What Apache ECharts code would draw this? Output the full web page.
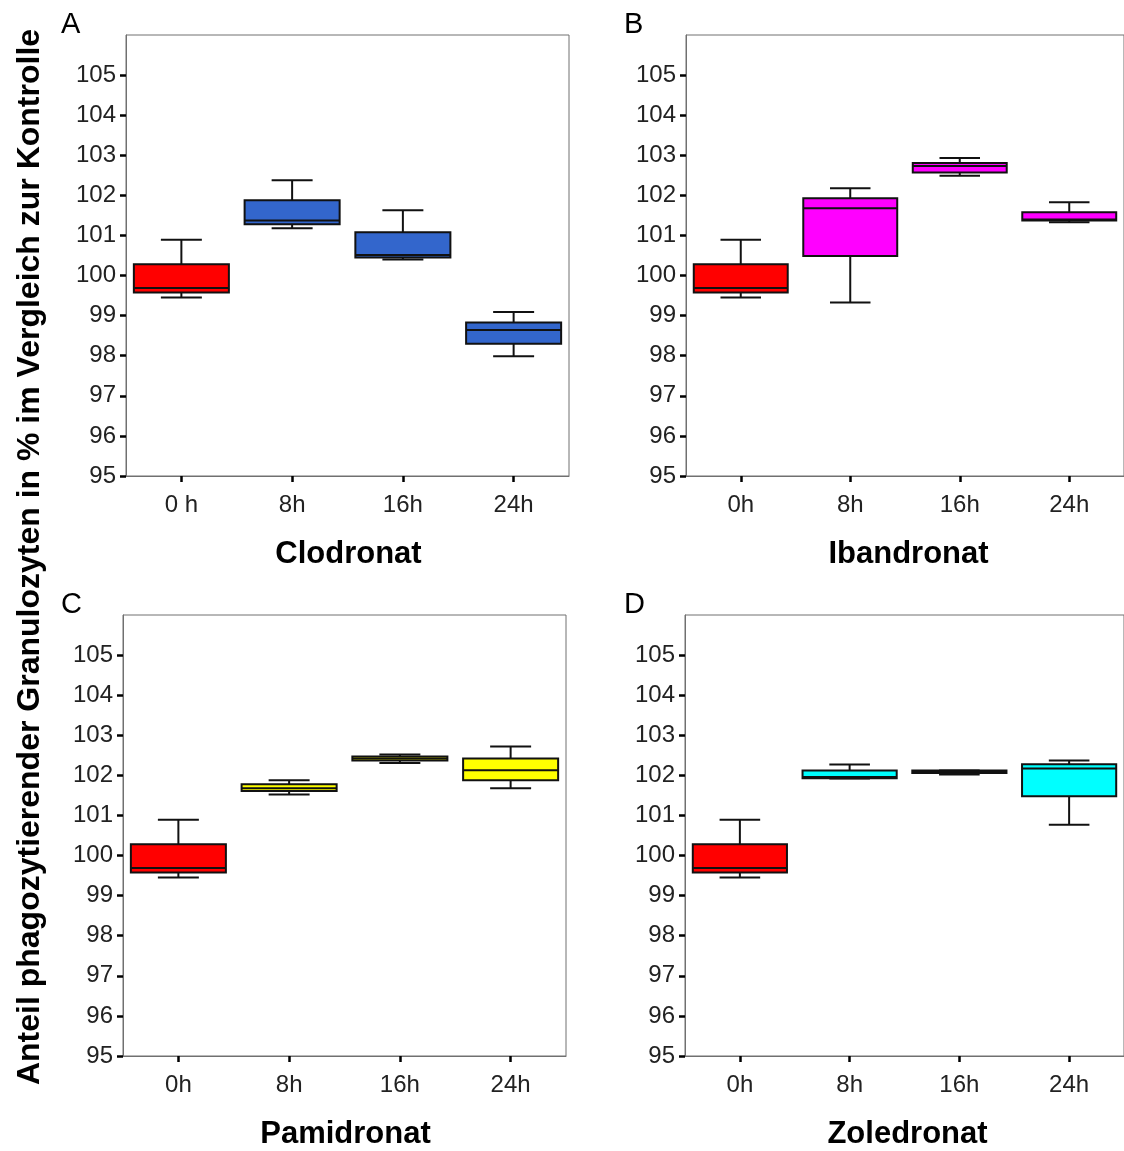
<!DOCTYPE html>
<html>
<head>
<meta charset="utf-8">
<script src="https://cdn.jsdelivr.net/npm/echarts@6/dist/echarts.min.js"></script>
<style>
html,body{margin:0;padding:0;background:#fff;}
#chart{width:1124px;height:1151px;}
</style>
</head>
<body>
<div id="chart"></div>
<script>
// ---- data ----
const categoriesA = ['0 h', '8h', '16h', '24h'];
const categoriesOther = ['0h', '8h', '16h', '24h'];
const yTicks = [95, 96, 97, 98, 99, 100, 101, 102, 103, 104, 105];
const panelNames = ['Clodronat', 'Ibandronat', 'Pamidronat', 'Zoledronat'];
const panelLetters = ['A', 'B', 'C', 'D'];
// each box: [lower whisker, Q1, median, Q3, upper whisker]
const control0h = [99.45, 99.58, 99.69, 100.28, 100.89];
const clodronat = [control0h,
  [101.18, 101.28, 101.37, 101.88, 102.38],
  [100.40, 100.45, 100.51, 101.08, 101.63],
  [97.99, 98.30, 98.64, 98.83, 99.09]];
const ibandronat = [control0h,
  [99.33, 100.49, 101.68, 101.93, 102.18],
  [102.49, 102.57, 102.73, 102.81, 102.93],
  [101.33, 101.37, 101.40, 101.58, 101.83]];
const pamidronat = [control0h,
  [101.52, 101.61, 101.68, 101.78, 101.88],
  [102.31, 102.37, 102.42, 102.47, 102.52],
  [101.68, 101.88, 102.13, 102.42, 102.72]];
const zoledronat = [control0h,
  [101.92, 101.93, 101.96, 102.12, 102.27],
  [102.02, 102.06, 102.09, 102.12, 102.12],
  [100.77, 101.48, 102.17, 102.28, 102.37]];
const yTitle = 'Anteil phagozytierender Granulozyten in % im Vergleich zur Kontrolle';

// ---- styling / layout ----
const controlColor = '#FF0000';
const panelColors = ['#3366CC', '#FF00FF', '#FFFF00', '#00FFFF'];
const panelData = [clodronat, ibandronat, pamidronat, zoledronat];
const panelCats = [categoriesA, categoriesOther, categoriesOther, categoriesOther];
const grids = [
  {left: 126, top: 35, width: 443, height: 441},
  {left: 686, top: 35, width: 443, height: 441},
  {left: 123, top: 615, width: 443, height: 441},
  {left: 685, top: 615, width: 443, height: 441}
];
const letterPos = [[61, 10], [624, 10], [61, 590], [624, 590]];

const labelFont = 'Liberation Sans, Arial, sans-serif';

const option = {
  backgroundColor: '#ffffff',
  animation: false,
  grid: grids.map(g => Object.assign({show: true, borderColor: '#707070', borderWidth: 1, backgroundColor: 'transparent'}, g)),
  xAxis: grids.map((g, i) => ({
    type: 'category', gridIndex: i, data: panelCats[i], boundaryGap: true,
    axisLine: {show: true, lineStyle: {color: '#707070', width: 1}},
    axisTick: {show: true, alignWithLabel: true, length: 6, lineStyle: {color: '#000', width: 2.5}},
    axisLabel: {color: '#222', fontSize: 24, fontFamily: labelFont, margin: 17},
    splitLine: {show: false}
  })),
  yAxis: grids.map((g, i) => ({
    type: 'value', gridIndex: i, min: 95, max: 106, interval: 1,
    axisLine: {show: true, lineStyle: {color: '#707070', width: 1}},
    axisTick: {show: true, length: 6, lineStyle: {color: '#000', width: 2.5}, customValues: yTicks},
    axisLabel: {color: '#222', fontSize: 24, fontFamily: labelFont, margin: 10, customValues: yTicks},
    splitLine: {show: false}
  })),
  series: panelData.map((d, i) => ({
    type: 'custom', xAxisIndex: i, yAxisIndex: i,
    data: d.map((v, k) => [k].concat(v)),
    encode: {x: 0, y: [1, 2, 3, 4, 5]},
    renderItem: function (params, api) {
      const k = api.value(0);
      const lo = api.coord([k, api.value(1)]);
      const q1 = api.coord([k, api.value(2)]);
      const md = api.coord([k, api.value(3)]);
      const q3 = api.coord([k, api.value(4)]);
      const hi = api.coord([k, api.value(5)]);
      const band = api.size([1, 0])[0];
      const bw = band * 0.858, cw = band * 0.37;
      const cx = lo[0];
      const fill = k === 0 ? controlColor : panelColors[params.seriesIndex];
      const ls = {stroke: '#111', lineWidth: 2, fill: null};
      return {
        type: 'group',
        children: [
          {type: 'line', shape: {x1: cx, y1: q3[1], x2: cx, y2: hi[1]}, style: ls},
          {type: 'line', shape: {x1: cx, y1: q1[1], x2: cx, y2: lo[1]}, style: ls},
          {type: 'line', shape: {x1: cx - cw / 2, y1: hi[1], x2: cx + cw / 2, y2: hi[1]}, style: ls},
          {type: 'line', shape: {x1: cx - cw / 2, y1: lo[1], x2: cx + cw / 2, y2: lo[1]}, style: ls},
          {type: 'rect', shape: {x: cx - bw / 2, y: q3[1], width: bw, height: q1[1] - q3[1]},
            style: {fill: fill, stroke: '#111', lineWidth: 2}},
          {type: 'line', shape: {x1: cx - bw / 2, y1: md[1], x2: cx + bw / 2, y2: md[1]}, style: ls}
        ]
      };
    }
  })),
  graphic: [
    {type: 'text', x: 30, y: 557, rotation: Math.PI / 2,
      style: {text: yTitle, fill: '#000', font: 'bold 32px Liberation Sans, Arial, sans-serif', textAlign: 'center', textVerticalAlign: 'middle'}},
  ].concat(panelNames.map((n, i) => ({
    type: 'text', x: grids[i].left + 443 / 2 + 1, y: grids[i].top + 441 + 78,
    style: {text: n, fill: '#000', font: 'bold 31px Liberation Sans, Arial, sans-serif', textAlign: 'center', textVerticalAlign: 'middle'}
  }))).concat(panelLetters.map((t, i) => ({
    type: 'text', x: letterPos[i][0], y: letterPos[i][1],
    style: {text: t, fill: '#000', font: '29px Liberation Sans, Arial, sans-serif', textAlign: 'left', textVerticalAlign: 'top'}
  })))
};

const chart = echarts.init(document.getElementById('chart'), null, {renderer: 'canvas'});
chart.setOption(option);
</script>
</body>
</html>
